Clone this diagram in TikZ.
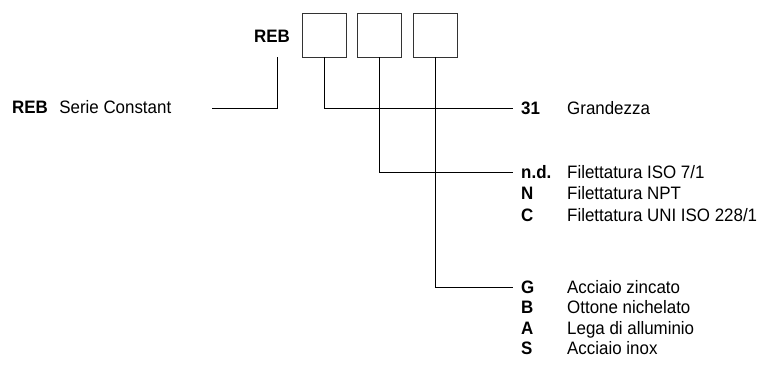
\documentclass[tikz,border=0pt]{standalone}
\usepackage{fontspec}
\setmainfont{Liberation Sans}[FakeStretch=0.94]
\usetikzlibrary{positioning}

\begin{document}
\begin{tikzpicture}[x=1pt, y=-1pt,
  slot/.style={draw=black!80, line width=0.8pt, minimum size=44pt,
    inner sep=0pt},
  code/.style={anchor=west, inner sep=0pt, text height=12.9pt,
    text depth=0pt, font=\fontsize{18}{21}\selectfont\bfseries},
  desc/.style={anchor=west, inner sep=0pt, text height=12.9pt,
    text depth=0pt, font=\fontsize{18}{21}\selectfont},
  lead/.style={line width=0.8pt}]
\useasboundingbox (0,0) rectangle (762,367);
% order code
\node[code, anchor=east] (reb) at (290,36) {REB};
\node[slot] (size) at (324,35) {};
\node[slot, right=11pt of size] (thread) {};
\node[slot, right=11pt of thread] (finish) {};
% series
\node[code] (reb key) at (12,107) {REB};
\node[desc, right=11pt of reb key] (serie) {Serie Constant};
\coordinate (serie end) at (212,108);
\coordinate (reb foot) at (277,57);
\draw[lead] (serie end) -| (reb foot);
% size
\node[code] (c31) at (521,108) {31};
\node[desc] at (567,108) {Grandezza};
\draw[lead] (size.south) |- ([xshift=-8pt]c31.west);
% thread
\node[code] (cnd) at (521,172) {n.d.};
\node[desc] at (567,172) {Filettatura ISO 7/1};
\node[code] at (521,193.5) {N};
\node[desc] at (567,193.5) {Filettatura NPT};
\node[code] at (521,215) {C};
\node[desc] at (567,215) {Filettatura UNI ISO 228/1};
\draw[lead] (thread.south) |- ([xshift=-8pt]cnd.west);
% finish
\node[code] (cg) at (521,287) {G};
\node[desc] at (567,287) {Acciaio zincato};
\node[code] at (521,307.3) {B};
\node[desc] at (567,307.3) {Ottone nichelato};
\node[code] at (521,327.7) {A};
\node[desc] at (567,327.7) {Lega di alluminio};
\node[code] at (521,348) {S};
\node[desc] at (567,348) {Acciaio inox};
\draw[lead] (finish.south) |- ([xshift=-8pt]cg.west);
\end{tikzpicture}
\end{document}
